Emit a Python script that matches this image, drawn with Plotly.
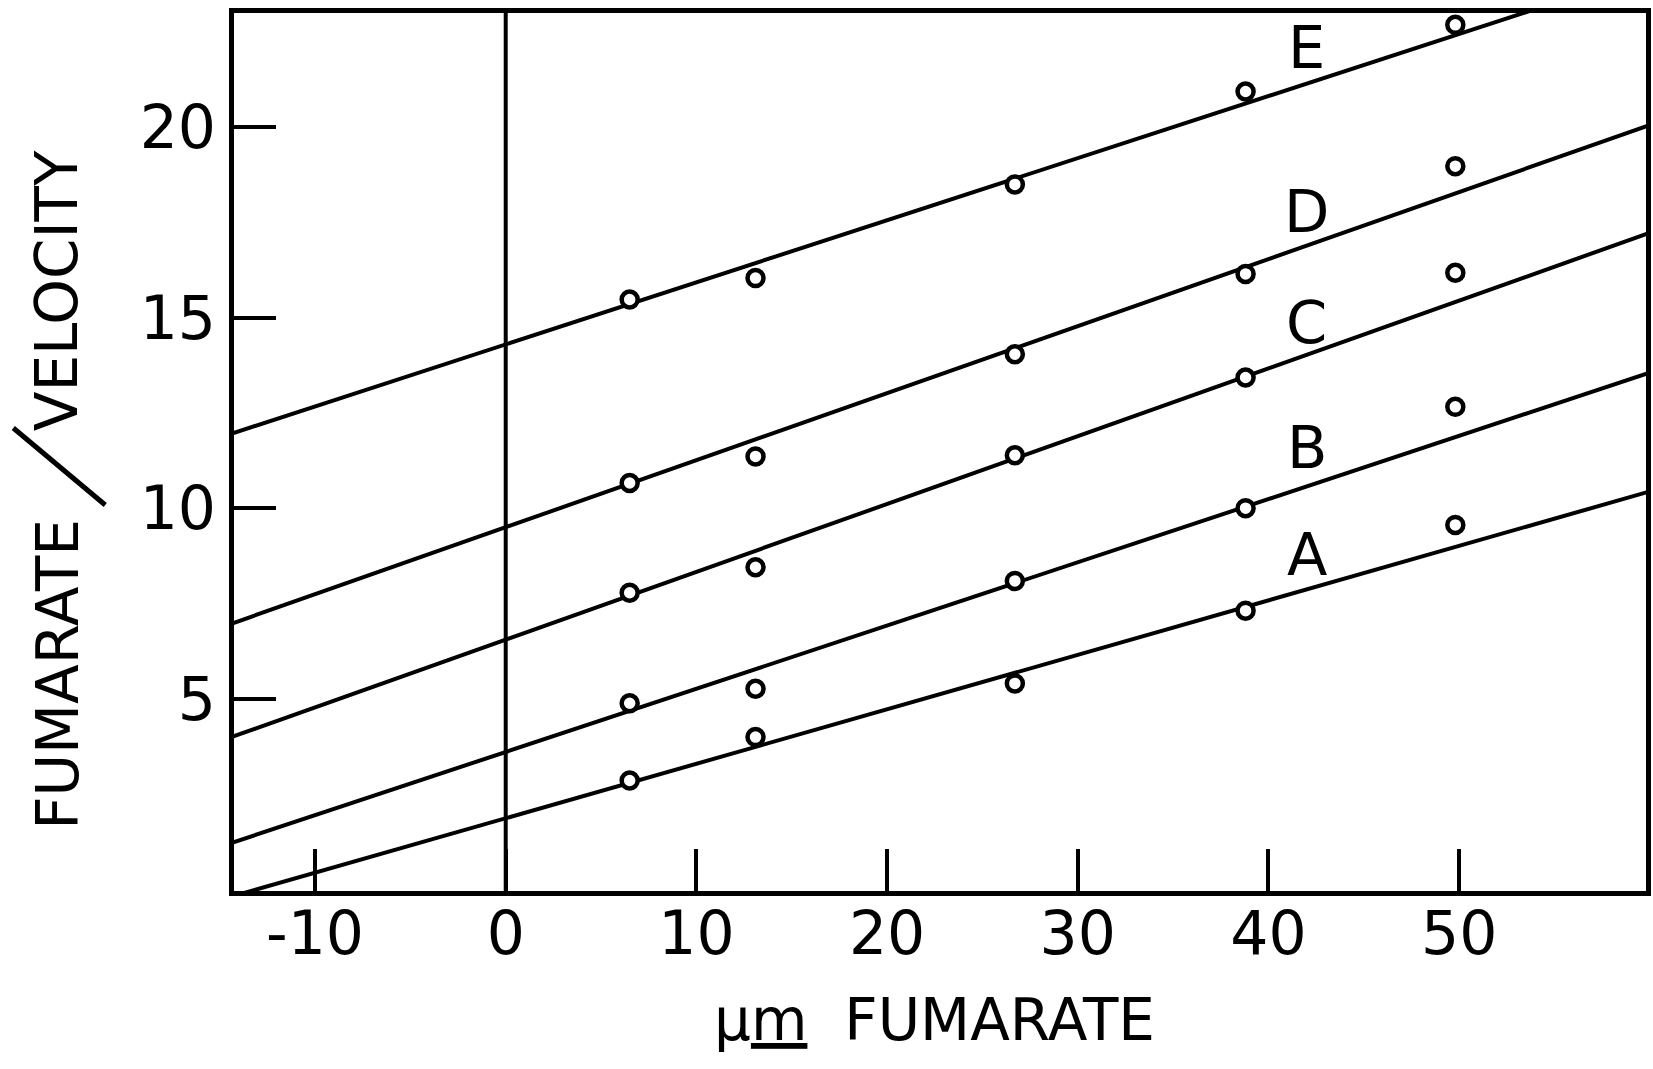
import plotly.graph_objects as go

# ---- data ----
fumarate = [6.5, 13.1, 26.7, 38.8, 49.8]
series_names = ["A", "B", "C", "D", "E"]
ratio_A = [2.85, 3.99, 5.40, 7.31, 9.56]
ratio_B = [4.88, 5.26, 8.09, 10.00, 12.66]
ratio_C = [7.78, 8.45, 11.39, 13.43, 16.18]
ratio_D = [10.66, 11.36, 14.04, 16.15, 18.98]
ratio_E = [15.48, 16.04, 18.50, 20.94, 22.69]
series_values = [ratio_A, ratio_B, ratio_C, ratio_D, ratio_E]

# fitted lines (intercept at 0 fumarate, slope)
intercepts = [1.86, 3.60, 6.55, 9.50, 14.30]
slopes = [0.143, 0.166, 0.178, 0.176, 0.163]

label_x = [42.0, 42.0, 42.0, 42.0, 42.0]
label_y = [8.78, 11.60, 14.88, 17.78, 22.10]

x_ticks = [-10, 0, 10, 20, 30, 40, 50]
x_ticktext = ["-10", "0", "10", "20", "30", "40", "50"]
y_ticks = [5, 10, 15, 20]
y_ticktext = ["5", "10", "15", "20"]
x_range = [-14.25, 59.8]
y_range = [-0.05, 23.0]

FONT = "DejaVu Sans"
INK = "black"

fig = go.Figure()

for name, vals, b0, b1 in zip(series_names, series_values, intercepts, slopes):
    xs = [x_range[0] - 2, x_range[1] + 2]
    fig.add_trace(go.Scatter(
        x=xs, y=[b0 + b1 * v for v in xs], mode="lines",
        line=dict(color=INK, width=4), showlegend=False, hoverinfo="skip"))
    fig.add_trace(go.Scatter(
        x=fumarate, y=vals, mode="markers", name=name,
        marker=dict(symbol="circle", size=16, color="white",
                    line=dict(color=INK, width=4.5)),
        showlegend=False, cliponaxis=False))

for name, lx, ly in zip(series_names, label_x, label_y):
    fig.add_annotation(x=lx, y=ly, text=name, showarrow=False,
                       font=dict(family=FONT, size=59, color=INK),
                       xanchor="center", yanchor="middle")

# vertical zero line
fig.add_shape(type="line", xref="x", yref="paper", x0=0, x1=0, y0=0, y1=1,
              line=dict(color=INK, width=4))

# x axis title
fig.add_annotation(xref="paper", yref="paper", x=0.496, y=-0.147,
                   text="\u03bc<u>m</u>  FUMARATE", showarrow=False,
                   font=dict(family=FONT, size=58, color=INK),
                   xanchor="center", yanchor="middle")
# y axis title: two words with a long slanted stroke between them
fig.add_annotation(xref="paper", yref="paper", x=-0.1248, y=0.2472,
                   text="FUMARATE", textangle=-90, showarrow=False,
                   font=dict(family=FONT, size=58, color=INK),
                   xanchor="center", yanchor="middle")
fig.add_annotation(xref="paper", yref="paper", x=-0.1248, y=0.684,
                   text="VELOCITY", textangle=-90, showarrow=False,
                   font=dict(family=FONT, size=58, color=INK),
                   xanchor="center", yanchor="middle")
fig.add_shape(type="line", xref="paper", yref="paper",
              x0=-0.1563, y0=0.5273, x1=-0.0912, y1=0.4396,
              line=dict(color=INK, width=5))

axis_common = dict(showgrid=False, zeroline=False, showline=True, mirror=True,
                   linecolor=INK, linewidth=5, ticks="inside", ticklen=42,
                   tickwidth=4, tickcolor=INK,
                   tickfont=dict(family=FONT, size=60, color=INK))

fig.update_xaxes(range=x_range, tickvals=x_ticks, ticktext=x_ticktext,
                 ticklabelstandoff=-14, **axis_common)
fig.update_yaxes(range=y_range, tickvals=y_ticks, ticktext=y_ticktext,
                 ticklabelstandoff=1, **axis_common)

fig.update_layout(width=1653, height=1069,
                  margin=dict(l=234, r=2, t=13, b=178),
                  paper_bgcolor="white", plot_bgcolor="white",
                  font=dict(family=FONT, color=INK))

fig.write_html("out.html")
